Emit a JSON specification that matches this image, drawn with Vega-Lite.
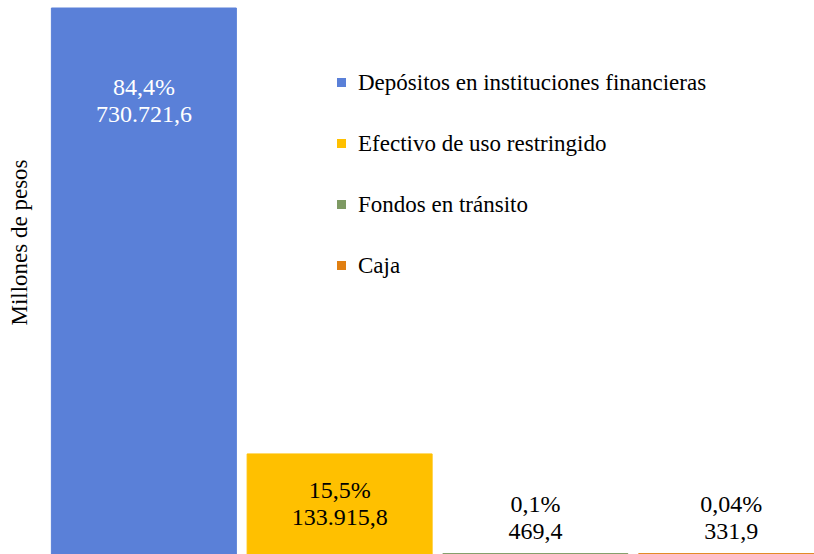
{
  "$schema": "https://vega.github.io/schema/vega-lite/v6.json",
  "autosize": {"type": "none"},
  "width": 783,
  "height": 546,
  "padding": {"left": 46, "top": 8, "right": 0, "bottom": 0},
  "background": "white",
  "config": {
    "view": {"stroke": null},
    "font": "Liberation Serif"
  },
  "data": {
    "values": [
      {"cat": "Depósitos en instituciones financieras", "value": 730721.6, "label": "84,4%\n730.721,6"},
      {"cat": "Efectivo de uso restringido", "value": 133915.8, "label": "15,5%\n133.915,8"},
      {"cat": "Fondos en tránsito", "value": 469.4, "label": "0,1%\n469,4"},
      {"cat": "Caja", "value": 331.9, "label": "0,04%\n331,9"}
    ]
  },
  "encoding": {
    "x": {
      "field": "cat", "type": "nominal", "sort": null,
      "scale": {"paddingInner": 0.055, "paddingOuter": 0.0275},
      "axis": null
    }
  },
  "layer": [
    {
      "mark": {"type": "bar", "strokeWidth": 1},
      "encoding": {
        "y": {
          "field": "value", "type": "quantitative",
          "scale": {"domain": [0, 730721.6], "nice": false},
          "axis": {
            "title": "Millones  de pesos",
            "titleFont": "Liberation Serif",
            "titleFontSize": 23,
            "titleFontWeight": "normal",
            "titleColor": "#000000",
            "titleX": -27,
            "titleY": 234,
            "titleAngle": -90,
            "titleAlign": "center",
            "titleBaseline": "middle",
            "labels": false,
            "ticks": false,
            "domain": false,
            "grid": false
          }
        },
        "color": {
          "field": "cat", "type": "nominal",
          "scale": {
            "domain": ["Depósitos en instituciones financieras", "Efectivo de uso restringido", "Fondos en tránsito", "Caja"],
            "range": ["#5A80D8", "#FFC000", "#7E9A63", "#E07F12"]
          },
          "legend": {
            "title": null,
            "orient": "none",
            "legendX": 284,
            "legendY": 63,
            "symbolType": "square",
            "symbolSize": 81,
            "symbolStrokeWidth": 0,
            "symbolOpacity": 1,
            "labelFont": "Liberation Serif",
            "labelFontSize": 23,
            "labelColor": "#000000",
            "labelOffset": 5,
            "rowPadding": 37,
            "labelLimit": 600
          }
        },
        "stroke": {
          "field": "cat", "type": "nominal", "legend": null,
          "scale": {
            "domain": ["Depósitos en instituciones financieras", "Efectivo de uso restringido", "Fondos en tránsito", "Caja"],
            "range": ["#5A80D8", "#FFC000", "#7E9A63", "#E07F12"]
          }
        }
      }
    },
    {
      "transform": [{"filter": "datum.cat === 'Depósitos en instituciones financieras'"}],
      "mark": {"type": "text", "font": "Liberation Serif", "lineBreak": "\n", "lineHeight": 27, "fontSize": 24, "baseline": "middle", "dy": 80, "color": "#FFFFFF"},
      "encoding": {"y": {"field": "value", "type": "quantitative"}, "text": {"field": "label"}}
    },
    {
      "transform": [{"filter": "datum.cat === 'Efectivo de uso restringido'"}, {"calculate": "datum.value / 2", "as": "mid"}],
      "mark": {"type": "text", "font": "Liberation Serif", "lineBreak": "\n", "lineHeight": 27, "fontSize": 24, "baseline": "middle", "dy": -13, "color": "#000000"},
      "encoding": {"y": {"field": "mid", "type": "quantitative"}, "text": {"field": "label"}}
    },
    {
      "transform": [{"filter": "datum.value < 1000"}],
      "mark": {"type": "text", "font": "Liberation Serif", "lineBreak": "\n", "lineHeight": 27, "fontSize": 24, "baseline": "middle", "dy": -49, "color": "#000000"},
      "encoding": {"y": {"field": "value", "type": "quantitative"}, "text": {"field": "label"}}
    }
  ]
}
